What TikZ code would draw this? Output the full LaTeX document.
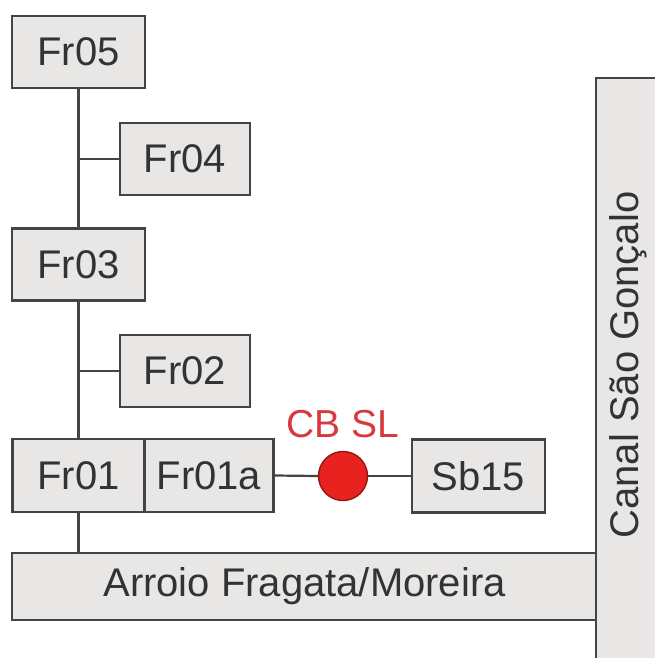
\documentclass[tikz,border=0pt]{standalone}
\usepackage{fontspec}
\setmainfont{Liberation Sans}
\usepackage{xcolor}
\usetikzlibrary{positioning}
\definecolor{boxfill}{HTML}{E9E7E5}
\definecolor{boxline}{HTML}{444444}
\definecolor{station}{HTML}{E8221E}
\definecolor{stationtext}{HTML}{D63A3C}
\tikzset{
  basin/.style={draw=boxline,fill=boxfill,line width=2.2pt,minimum width=131pt,minimum height=72pt,
    inner sep=0pt,font=\fontsize{40}{46}\selectfont,text=black!80},
  river/.style={draw=boxline,fill=boxfill,line width=2.2pt,inner sep=0pt,font=\fontsize{40}{46}\selectfont,text=black!80},
  link/.style={draw=boxline,line width=2.2pt}
}

\begin{document}
\begin{tikzpicture}[x=1pt,y=-1pt]
        \clip (0,0) rectangle (655,658);
        \fill[white] (0,0) rectangle (655,658);
        % rivers
        \node[river,minimum width=585pt,minimum height=67pt] (arroio) at (304.5,586.5) {Arroio Fragata/Moreira};
        \node[river,minimum width=100pt,minimum height=600pt] (canal) at (646,378) {};
        \node[rotate=90,font=\fontsize{40}{46}\selectfont,text=black!80] (canallabel) at (628,365) {Canal São Gonçalo};
        % sub-basins
        \node[basin,minimum width=133pt] (fr05) at (78.5,52) {Fr05};
        \node[basin,minimum width=130pt] (fr04) at (185,159) {Fr04};
        \node[basin,minimum width=133pt] (fr03) at (78.5,264.5) {Fr03};
        \node[basin,minimum width=130pt] (fr02) at (185,371) {Fr02};
        \node[basin,minimum width=132pt,minimum height=73pt] (fr01) at (78.5,475.5) {Fr01};
        \node[basin,minimum width=129pt,minimum height=73pt,right=-2.2pt of fr01] (fr01a) {Fr01a};
        \node[basin,minimum width=133pt,minimum height=73pt] (sb15) at (478.5,476) {Sb15};
        % gauge
        \node[circle,draw=station!65!black,fill=station,line width=1.4pt,minimum size=49pt,inner sep=0pt] (cbsl) at (343,476) {};
        \node[font=\fontsize{39}{45}\selectfont,text=stationtext] (cbsllabel) at (343,424) {CB SL};
        % links
        \draw[link] (fr05.south) -- (fr03.north);
        \draw[link] (fr03.south) -- (fr01.north);
        \draw[link] (fr01.south) -- (fr01.south |- arroio.north);
        \draw[link] (fr04.west) -- (fr04.west -| fr05.south);
        \draw[link] (fr02.west) -- (fr02.west -| fr03.south);
        \draw[link] (fr01a.east) -- (cbsl.west);
        \draw[link] (cbsl.east) -- (sb15.west);
      \end{tikzpicture}
\end{document}
